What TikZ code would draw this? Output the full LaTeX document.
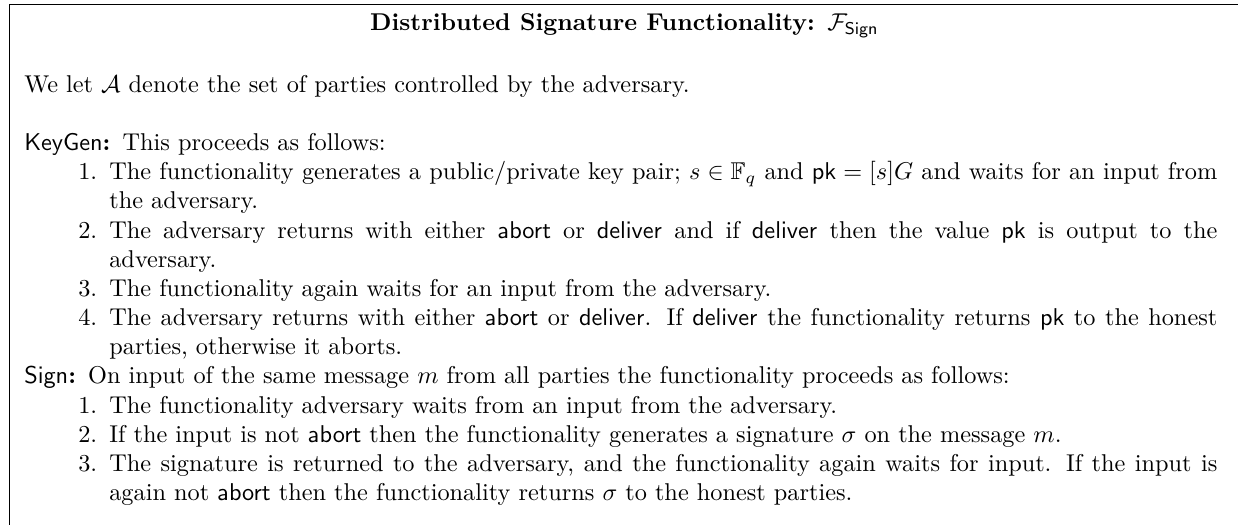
\documentclass[tikz,border=0pt]{standalone}
\usepackage{amsmath}
\usepackage{amssymb}
\usetikzlibrary{positioning}

\newcommand{\Fsign}{\mathcal{F}_{\mathsf{Sign}}}
\newcommand{\cmd}[1]{\ensuremath{\mathsf{#1}}}

\tikzset{%
	frame/.style={
		draw,
		line width=0.4pt
	},
	textline/.style={
		anchor=base west,
		inner sep=0pt,
		outer sep=0pt
	},
	itemtext/.style={
		textline,
		text width=456pt,
		align=justify
	},
	itemnum/.style={
		inner sep=0pt,
		outer sep=0pt
	},
}

\begin{document}
\begin{tikzpicture}[x=1pt, y=1pt]
	\useasboundingbox (0,0) rectangle (509.5,-216);
	% frame, cut off at the right and at the bottom
	\draw[frame] (3.7,-1.85) rectangle (530,-240);
	
	\node[textline, anchor=base, font=\bfseries] (title) at (257,-12.5)
		{Distributed Signature Functionality: $\Fsign$};
	\node[textline] (intro) at (10,-38)
		{We let $\mathcal{A}$ denote the set of parties controlled by the adversary.};
	
	% KeyGen
	\node[textline] (keygen) at (10,-62)
		{\textbf{$\mathsf{KeyGen}$:}\enspace This proceeds as follows:};
	\node[itemtext, below=12pt of keygen.base west, xshift=35pt, anchor=base west] (kg1)
		{The functionality generates a public/private key pair; $s \in \mathbb{F}_q$ and $\cmd{pk} = [s]G$ and waits for an input from the adversary.};
	\node[itemtext, below=24pt of kg1.base west, anchor=base west] (kg2)
		{The adversary returns with either \cmd{abort} or \cmd{deliver} and if \cmd{deliver} then the value \cmd{pk} is output to the\linebreak adversary.};
	\node[itemtext, below=24pt of kg2.base west, anchor=base west] (kg3)
		{The functionality again waits for an input from the adversary.};
	\node[itemtext, below=12pt of kg3.base west, anchor=base west] (kg4)
		{The adversary returns with either \cmd{abort} or \cmd{deliver}. If \cmd{deliver} the functionality returns \cmd{pk} to the honest parties, otherwise it aborts.};
	
	% Sign
	\node[textline, below=24pt of kg4.base west, xshift=-35pt, anchor=base west] (sign)
		{\textbf{$\mathsf{Sign}$:}\enspace On input of the same message $m$ from all parties the functionality proceeds as follows:};
	\node[itemtext, below=12pt of sign.base west, xshift=35pt, anchor=base west] (sg1)
		{The functionality adversary waits from an input from the adversary.};
	\node[itemtext, below=12pt of sg1.base west, anchor=base west] (sg2)
		{If the input is not \cmd{abort} then the functionality generates a signature $\sigma$ on the message $m$.};
	\node[itemtext, below=12pt of sg2.base west, anchor=base west] (sg3)
		{The signature is returned to the adversary, and the functionality again waits for input. If the input is again not \cmd{abort} then the functionality returns $\sigma$ to the honest parties.};
	
	\foreach \itm/\n in {kg1/1, kg2/2, kg3/3, kg4/4, sg1/1, sg2/2, sg3/3}
		\node[itemnum, left=5pt of \itm.base west, anchor=base east] (num-\itm) {\n.};
	
\end{tikzpicture}
\end{document}
